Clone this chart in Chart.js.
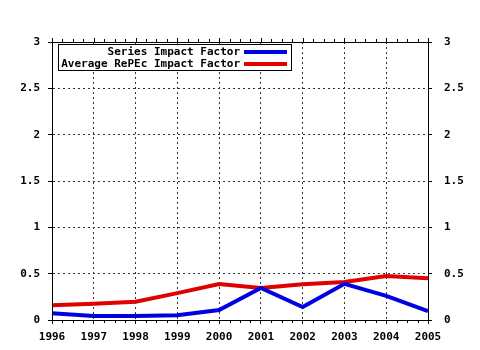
<!DOCTYPE html>
<html>
<head>
<meta charset="utf-8">
<script src="https://cdn.jsdelivr.net/npm/chart.js@4/dist/chart.umd.min.js"></script>
<style>
html,body{margin:0;padding:0;background:#fff;}
#wrap{width:480px;height:350px;position:relative;}
</style>
</head>
<body>
<div id="wrap"><canvas id="c" width="480" height="350"></canvas></div>
<script>
const years = ['1996','1997','1998','1999','2000','2001','2002','2003','2004','2005'];
const seriesImpact = [0.072, 0.043, 0.043, 0.052, 0.108, 0.345, 0.14, 0.39, 0.26, 0.097];
const averageRepec = [0.158, 0.176, 0.197, 0.29, 0.388, 0.345, 0.385, 0.41, 0.475, 0.45];
const seriesLabels = ['Series Impact Factor', 'Average RePEc Impact Factor'];
const seriesColors = ['#0000e0', '#e00000'];

const FONT = {family: '"DejaVu Sans Mono", "Liberation Mono", monospace', size: 11, weight: 'bold'};

const framePlugin = {
  id: 'frame',
  afterDraw(chart) {
    const ctx = chart.ctx, a = chart.chartArea, xs = chart.scales.x;
    ctx.save();
    ctx.strokeStyle = '#000';
    ctx.lineWidth = 1;
    ctx.setLineDash([]);
    ctx.strokeRect(Math.round(a.left) + 0.5, Math.round(a.top) + 0.5,
                   Math.round(a.right - a.left), Math.round(a.bottom - a.top));
    // minor ticks (quarters) on top and bottom
    ctx.beginPath();
    for (let i = 0; i < years.length - 1; i++) {
      const p0 = xs.getPixelForValue(i), p1 = xs.getPixelForValue(i + 1);
      for (let k = 1; k < 4; k++) {
        const px = Math.round(p0 + (p1 - p0) * k / 4) + 0.5;
        ctx.moveTo(px, Math.round(a.bottom)); ctx.lineTo(px, Math.round(a.bottom) + 3);
        ctx.moveTo(px, Math.round(a.top)); ctx.lineTo(px, Math.round(a.top) - 3);
      }
    }
    for (let i = 0; i < years.length; i++) {
      const px = Math.round(xs.getPixelForValue(i)) + 0.5;
      ctx.moveTo(px, Math.round(a.top)); ctx.lineTo(px, Math.round(a.top) - 4);
    }
    ctx.stroke();
    // legend
    const bx = 58.5, by = 44.5, bw = 233, bh = 26;
    ctx.fillStyle = '#fff';
    ctx.fillRect(bx, by, bw, bh);
    ctx.strokeRect(bx, by, bw, bh);
    ctx.font = 'bold 11px "DejaVu Sans Mono", "Liberation Mono", monospace';
    ctx.textAlign = 'right';
    ctx.textBaseline = 'middle';
    chart.data.datasets.forEach((ds, i) => {
      const y = 52 + i * 12;
      ctx.fillStyle = '#000';
      ctx.fillText(ds.label, 240, y);
      ctx.strokeStyle = ds.borderColor;
      ctx.lineWidth = 4;
      ctx.beginPath();
      ctx.moveTo(244, y); ctx.lineTo(287, y);
      ctx.stroke();
      ctx.strokeStyle = '#000';
      ctx.lineWidth = 1;
    });
    ctx.restore();
  }
};

const gridCommon = {
  color: '#333',
  lineWidth: 1,
  tickBorderDash: [],
  tickColor: '#000',
  tickLength: 4,
  drawTicks: true
};
const borderCommon = {display: true, color: '#000', width: 1, dash: [2, 3]};
const plainNum = v => String(v);

new Chart(document.getElementById('c'), {
  type: 'line',
  data: {
    labels: years,
    datasets: [
      {label: seriesLabels[0], data: seriesImpact, borderColor: seriesColors[0], borderWidth: 4, pointRadius: 0, tension: 0, fill: false},
      {label: seriesLabels[1], data: averageRepec, borderColor: seriesColors[1], borderWidth: 4, pointRadius: 0, tension: 0, fill: false}
    ]
  },
  options: {
    responsive: false,
    animation: false,
    devicePixelRatio: 1,
    layout: {padding: {top: 42, left: 0, right: 0, bottom: 0}},
    plugins: {legend: {display: false}, tooltip: {enabled: false}},
    scales: {
      x: {
        type: 'category',
        offset: false,
        grid: Object.assign({}, gridCommon, {offset: false}),
        border: borderCommon,
        ticks: {color: '#000', font: FONT, padding: 7, maxRotation: 0, autoSkip: false},
        afterFit(s) { s.height = 30; }
      },
      y: {
        position: 'left',
        min: 0, max: 3,
        grid: gridCommon,
        border: borderCommon,
        ticks: {stepSize: 0.5, color: '#000', font: FONT, padding: 8, callback: plainNum},
        afterFit(s) { s.width = 52; }
      },
      y2: {
        position: 'right',
        min: 0, max: 3,
        grid: Object.assign({}, gridCommon, {drawOnChartArea: false}),
        border: borderCommon,
        ticks: {stepSize: 0.5, color: '#000', font: FONT, padding: 12, callback: plainNum},
        afterFit(s) { s.width = 52; }
      }
    }
  },
  plugins: [framePlugin]
});
</script>
</body>
</html>
